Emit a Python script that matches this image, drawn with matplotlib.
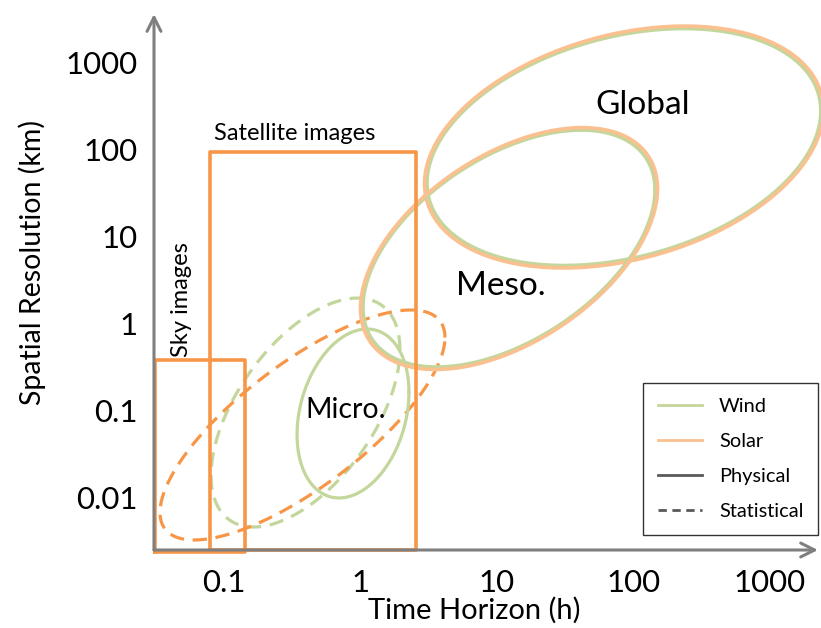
import numpy as np
import matplotlib
matplotlib.use("Agg")
import matplotlib.pyplot as plt
from matplotlib.lines import Line2D

plt.rcParams['font.family'] = ['Lato', 'DejaVu Sans']

# axes are in decades: x = log10(hours), y = log10(km)
x_ticks = [-1, 0, 1, 2, 3]
x_tick_labels = ['0.1', '1', '10', '100', '1000']
y_ticks = [3, 2, 1, 0, -1, -2]
y_tick_labels = ['1000', '100', '10', '1', '0.1', '0.01']

# rectangles (x0, x1, y0, y1) in decades
sky_box = [-1.505, -0.846, -2.632, -0.425]
sat_box = [-1.103, 0.407, -2.609, 1.966]

# ellipses: centre x, centre y, half-width, half-height, tilt (corr.)
global_ell = [1.930, 2.023, 1.443, 1.362, 0.304]
meso_ell = [1.088, 0.856, 1.070, 1.362, 0.494]
micro_ell = [-0.055, -1.040, 0.410, 0.971, 0.25]
wind_stat_ell = [-0.403, -1.029, 0.692, 1.316, 0.55]
solar_stat_ell = [-0.425, -1.172, 1.044, 1.322, 0.76]

orange = '#F79646'
light_orange = '#FAC090'
green = '#C3D69B'
grey = '#7F7F7F'


def ellipse(ax, p, pad=(0, 0), **kw):
    cx, cy, w, h, r = p
    w, h = w + pad[0], h + pad[1]
    t = np.linspace(0, 2 * np.pi, 400)
    x = cx + w * np.cos(t)
    y = cy + h * (r * np.cos(t) + np.sqrt(1 - r ** 2) * np.sin(t))
    ax.plot(x, y, clip_on=False, solid_capstyle='round', **kw)


def box(ax, b, **kw):
    x0, x1, y0, y1 = b
    ax.plot([x0, x1, x1, x0, x0], [y0, y0, y1, y1, y0], clip_on=False,
            solid_joinstyle='round', **kw)


fig = plt.figure(figsize=(8.21, 6.28), dpi=100)
ax = fig.add_axes([154 / 821, 78 / 628, 664 / 821, 536 / 628])
ax.set_xlim(-1.513, 3.352)
ax.set_ylim(-2.609, 3.552)
for s in ax.spines.values():
    s.set_visible(False)

# axis arrows
arrow = dict(arrowstyle='->,head_length=1.0,head_width=0.5', color=grey,
             lw=2.2, shrinkA=0, shrinkB=0)
ax.annotate('', xy=(1, 0), xytext=(0, 0), xycoords='axes fraction',
            arrowprops=arrow)
ax.annotate('', xy=(0, 1), xytext=(0, 0), xycoords='axes fraction',
            arrowprops=arrow)

ax.set_xticks(x_ticks)
ax.set_xticklabels(x_tick_labels)
ax.set_yticks(y_ticks)
ax.set_yticklabels(y_tick_labels)
ax.tick_params(length=0, labelsize=22.5)
ax.tick_params(axis='x', pad=14)
ax.tick_params(axis='y', pad=12)

ax.set_xlabel('Time Horizon (h)', fontsize=21)
ax.xaxis.set_label_coords(0.482, -0.113)
ax.xaxis.label.set_va('center')
ax.set_ylabel('Spatial Resolution (km)', fontsize=20.5)
ax.yaxis.set_label_coords(-0.184, 0.537)
ax.yaxis.label.set_va('center')

# statistical (dashed)
ellipse(ax, wind_stat_ell, color=green, lw=2.3, dashes=(4.5, 2.7))
ellipse(ax, solar_stat_ell, color=orange, lw=2.3, dashes=(4.5, 2.7))

# physical (solid)
ellipse(ax, micro_ell, color=green, lw=2.3)
for p in [global_ell, meso_ell]:
    ellipse(ax, p, color=green, lw=2.6)
    ellipse(ax, p, pad=(0.018, 0.028), color=light_orange, lw=2.6)

box(ax, sky_box, color=orange, lw=2.6)
box(ax, sat_box, color=orange, lw=2.6)

ax.text(-1.073, 2.184, 'Satellite images', fontsize=17, ha='left', va='center')
ax.text(-1.315, 0.264, 'Sky images', fontsize=17, ha='center', va='center',
        rotation=90)
ax.text(2.070, 2.506, 'Global', fontsize=24, ha='center', va='center')
ax.text(1.029, 0.425, 'Meso.', fontsize=24, ha='center', va='center')
ax.text(-0.106, -1.0, 'Micro.', fontsize=20.5, ha='center', va='center')

handles = [Line2D([], [], color=green, lw=2),
           Line2D([], [], color=light_orange, lw=2),
           Line2D([], [], color='#595959', lw=2),
           Line2D([], [], color='#595959', lw=2, dashes=(3, 2))]
leg = fig.legend(handles, ['Wind', 'Solar', 'Physical', 'Statistical'],
                 loc='upper left', bbox_to_anchor=(643 / 821, 1 - 383 / 628),
                 fontsize=14.4, frameon=True, fancybox=False, handlelength=2.2,
                 handletextpad=0.85, labelspacing=0.9, borderpad=0.75,
                 borderaxespad=0)
leg.get_frame().set_edgecolor('black')
leg.get_frame().set_linewidth(1)

fig.savefig('out.png', dpi=100)
